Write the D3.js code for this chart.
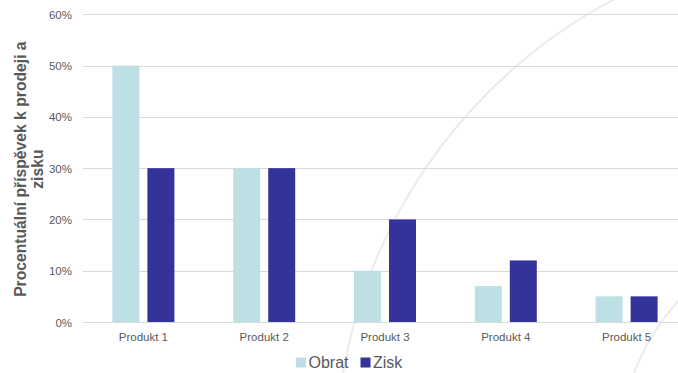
<!DOCTYPE html>
<html>
<head>
<meta charset="utf-8">
<script src="https://cdn.jsdelivr.net/npm/d3@7"></script>
<style>
  html, body { margin: 0; padding: 0; background: #fff; }
  svg { display: block; font-family: "Liberation Sans", Arial, sans-serif; }
</style>
</head>
<body>
<svg id="chart" width="678" height="373"></svg>
<script>
const categories = ["Produkt 1", "Produkt 2", "Produkt 3", "Produkt 4", "Produkt 5"];
const seriesNames = ["Obrat", "Zisk"];
const obrat = [0.50, 0.30, 0.10, 0.07, 0.05];
const zisk = [0.30, 0.30, 0.20, 0.12, 0.05];
const yTicks = [0, 0.1, 0.2, 0.3, 0.4, 0.5, 0.6];
const yTitleLines = ["Procentuální příspěvek k prodeji a", "zisku"];
const colors = { Obrat: "#BCE0E3", Zisk: "#343399" };

const seriesValues = { Obrat: obrat, Zisk: zisk };

const svg = d3.select("#chart");
const W = 678, H = 373;
const plot = { left: 83, right: 687, top: 14.3, bottom: 322 };

// decorative background arcs
const deco = svg.append("g");
[522.5, 241].forEach(r => {
  deco.append("circle")
    .attr("cx", 858).attr("cy", 461.5).attr("r", r)
    .attr("fill", "none").attr("stroke", "#EBEBEB").attr("stroke-width", 2);
});

const x = d3.scaleBand().domain(categories).range([plot.left, plot.right]).paddingInner(0).paddingOuter(0);
const xs = d3.scaleBand().domain(seriesNames).range([0, x.bandwidth()]).paddingInner(0.2286).paddingOuter(0.84);
const y = d3.scaleLinear().domain([0, 0.6]).range([plot.bottom, plot.top]);

// gridlines
const yAxis = d3.axisLeft(y).tickValues(yTicks).tickSize(-(W - plot.left)).tickFormat(d3.format(".0%"));
const ga = svg.append("g").attr("transform", `translate(${plot.left},0)`).call(yAxis);
ga.select(".domain").remove();
ga.selectAll(".tick line").attr("stroke", "#D9D9D9").attr("stroke-width", 1).attr("shape-rendering", "crispEdges");
ga.selectAll(".tick text")
  .attr("x", -11).attr("dy", "0.35em")
  .attr("fill", "#595959").attr("font-size", "11.5px").attr("font-family", "Liberation Sans, Arial, sans-serif");

// bars
const gCat = svg.append("g").selectAll("g").data(categories).join("g")
  .attr("transform", d => `translate(${x(d)},0)`);
gCat.selectAll("rect")
  .data((d, i) => seriesNames.map(s => ({ s, v: seriesValues[s][i] })))
  .join("rect")
  .attr("x", d => xs(d.s))
  .attr("width", xs.bandwidth())
  .attr("y", d => y(d.v))
  .attr("height", d => y(0) - y(d.v))
  .attr("fill", d => colors[d.s]);

// x axis
const xAxis = d3.axisBottom(x).tickSize(0).tickPadding(0);
const gx = svg.append("g").attr("transform", `translate(0,${plot.bottom})`).call(xAxis);
gx.select(".domain").remove();
gx.selectAll(".tick text")
  .attr("y", 19).attr("dy", 0)
  .attr("fill", "#595959").attr("font-size", "11.5px").attr("font-family", "Liberation Sans, Arial, sans-serif");

// y title
const yt = svg.append("text")
  .attr("transform", `translate(25.5,${(plot.top + plot.bottom) / 2 + 1}) rotate(-90)`)
  .attr("text-anchor", "middle")
  .attr("font-size", "15.7px").attr("font-weight", "bold").attr("fill", "#595959");
yTitleLines.forEach((t, i) => {
  yt.append("tspan").attr("x", 0).attr("y", i * 17.5).text(t);
});

// legend
const lg = svg.append("g").attr("transform", "translate(296,368)");
let lx = 0;
seriesNames.forEach(s => {
  lg.append("rect").attr("x", lx).attr("y", -10.5).attr("width", 10).attr("height", 10).attr("fill", colors[s]);
  const t = lg.append("text").attr("x", lx + 12.5).attr("y", 0)
    .attr("font-size", "16px").attr("fill", "#595959").text(s);
  lx += 12.5 + t.node().getComputedTextLength() + 12;
});
</script>
</body>
</html>
